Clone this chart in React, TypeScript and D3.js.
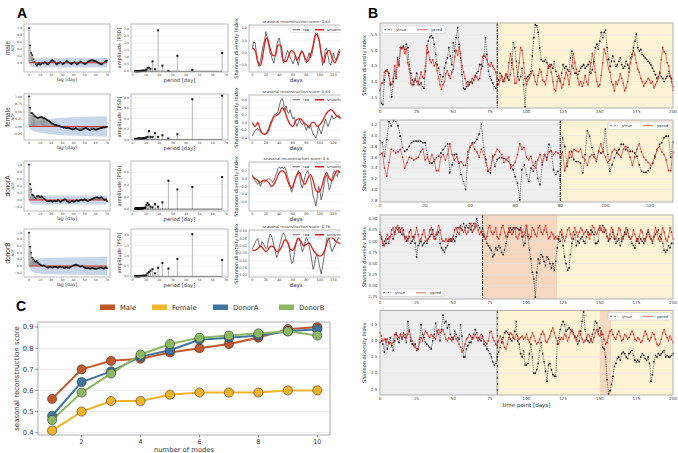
import React from "react";
import * as d3 from "d3";

const FONT = "'DejaVu Sans', sans-serif";
const ARIAL = "'Liberation Sans', Arial, sans-serif";

// ---------------- Panel C data ----------------
const modes = [1, 2, 3, 4, 5, 6, 7, 8, 9, 10];
const cMale = [0.56, 0.70, 0.74, 0.75, 0.78, 0.80, 0.82, 0.85, 0.89, 0.90];
const cFemale = [0.41, 0.50, 0.55, 0.55, 0.58, 0.59, 0.59, 0.59, 0.60, 0.60];
const cDonorA = [0.48, 0.64, 0.69, 0.76, 0.79, 0.84, 0.85, 0.86, 0.88, 0.89];
const cDonorB = [0.46, 0.59, 0.68, 0.77, 0.82, 0.85, 0.86, 0.87, 0.88, 0.86];
const cNames = ["Male", "Female", "DonorA", "DonorB"];
const cYTicks = [0.4, 0.5, 0.6, 0.7, 0.8, 0.9];
const cXTicks = [2, 4, 6, 8, 10];

// ---------------- Panel A data ----------------
const rowNames = ["male", "female", "donorA", "donorB"];
const reconScores = ["0.84", "0.64", "0.8", "0.76"];

const acfMale = [1.0, 0.5, 0.28, 0.22, 0.1, 0.02, -0.05, -0.08, -0.05, -0.02, -0.06, -0.04, 0.0, -0.02, 0.02, 0.0, -0.03, -0.05, -0.02, 0.02, 0.05, 0.08, 0.05, 0.02, -0.03, -0.05, -0.02, 0.0, 0.02, 0.0, -0.04, -0.03, 0.0, 0.03, 0.05, 0.02, 0.0, -0.02, -0.04, -0.02, 0.0, 0.02, -0.02, -0.05, -0.03, 0.0, 0.03, 0.02, 0.0, -0.02, -0.04, -0.03, 0.0, 0.03, 0.05, 0.06, 0.07, 0.07, 0.06, 0.05, 0.04, 0.02, 0.0, -0.02, -0.04, -0.05, -0.03, 0.0, 0.03, 0.05, 0.06];
const acfFemale = [1.0, 0.62, 0.45, 0.44, 0.4, 0.35, 0.33, 0.3, 0.28, 0.3, 0.31, 0.32, 0.3, 0.28, 0.27, 0.25, 0.22, 0.2, 0.18, 0.15, 0.12, 0.1, 0.08, 0.06, 0.05, 0.04, 0.03, 0.02, 0.0, -0.01, -0.02, -0.04, -0.03, -0.05, -0.06, -0.05, -0.05, -0.07, -0.08, -0.1, -0.09, -0.08, -0.06, -0.08, -0.1, -0.12, -0.13, -0.12, -0.1, -0.08, -0.06, -0.05, -0.07, -0.09, -0.11, -0.12, -0.1, -0.09, -0.08, -0.1, -0.11, -0.1, -0.08, -0.07, -0.06, -0.05, -0.04, -0.03, -0.03, -0.02, -0.01];
const acfDonorA = [1.0, 0.45, 0.3, 0.15, 0.13, 0.08, 0.05, 0.1, 0.12, 0.1, 0.08, 0.1, 0.08, 0.05, 0.03, 0.0, -0.03, -0.04, -0.03, -0.02, -0.03, -0.05, -0.03, -0.02, -0.04, -0.03, 0.0, -0.02, -0.05, -0.04, -0.02, 0.0, 0.02, 0.01, -0.03, -0.05, -0.07, -0.06, -0.04, -0.03, -0.05, -0.04, -0.02, -0.01, -0.03, -0.02, 0.0, 0.01, -0.01, 0.0, 0.02, 0.0, -0.02, -0.03, -0.01, 0.0, 0.02, 0.03, 0.05, 0.06, 0.07, 0.08, 0.06, 0.05, 0.07, 0.08, 0.05, 0.02, 0.0, 0.02, -0.03];
const acfDonorB = [1.0, 0.58, 0.4, 0.25, 0.2, 0.15, 0.12, 0.15, 0.1, 0.06, 0.04, 0.02, 0.0, 0.02, 0.01, -0.02, -0.04, -0.05, -0.03, -0.02, -0.04, -0.05, -0.03, -0.02, -0.03, -0.04, -0.05, -0.03, -0.02, -0.04, -0.03, -0.05, -0.06, -0.04, -0.03, -0.05, -0.06, -0.04, -0.02, 0.0, 0.02, 0.03, 0.04, 0.03, 0.02, 0.0, -0.02, -0.01, 0.0, -0.03, -0.05, -0.06, -0.07, -0.06, -0.07, -0.08, -0.07, -0.06, -0.07, -0.08, -0.09, -0.08, -0.07, -0.06, -0.05, -0.06, -0.07, -0.08, -0.06, -0.05, -0.07];

// confidence band half-widths: [lag, halfwidth]
const bandMale = [[0, 0], [1, 0.09], [2, 0.11], [3, 0.12], [5, 0.13], [70, 0.14]];
const bandFemale = [[0, 0], [1, 0.1], [2, 0.13], [5, 0.17], [10, 0.21], [20, 0.26], [30, 0.29], [50, 0.32], [70, 0.34]];
const bandDonorA = [[0, 0], [1, 0.09], [2, 0.11], [3, 0.12], [5, 0.13], [70, 0.13]];
const bandDonorB = [[0, 0], [1, 0.1], [2, 0.14], [3, 0.17], [5, 0.2], [10, 0.23], [20, 0.25], [70, 0.28]];

const psdPeriods = [67.0, 44.7, 33.5, 26.8, 22.3, 19.1, 16.8, 14.9, 13.4, 12.2, 11.2, 10.3, 9.6, 8.9, 8.4, 7.9, 7.4, 7.1, 6.7, 6.4, 6.1, 5.8, 5.6, 5.4, 5.2, 5.0, 4.8, 4.6, 4.5, 4.3, 4.2, 4.0, 3.8, 3.6, 3.4, 3.2, 3.0, 2.8, 2.6, 2.4, 2.2, 2.0];
const psdMale = [1.3, 0.1, 1.1, 0.03, 0.4, 2.9, 0.15, 0.7, 0.18, 0.25, 0.25, 0.12, 0.06, 0.04, 0.05, 0.03, 0.02, 0.04, 0.03, 0.02, 0.03, 0.02, 0.01, 0.02, 0.03, 0.02, 0.01, 0.02, 0.01, 0.02, 0.01, 0.01, 0.02, 0.01, 0.01, 0.02, 0.01, 0.01, 0.01, 0.01, 0.01, 0.01];
const psdFemale = [0.84, 0.77, 0.1, 0.02, 0.08, 0.05, 0.12, 0.05, 0.05, 0.16, 0.05, 0.04, 0.03, 0.02, 0.03, 0.02, 0.02, 0.01, 0.02, 0.01, 0.01, 0.02, 0.01, 0.01, 0.01, 0.01, 0.01, 0.02, 0.01, 0.01, 0.01, 0.01, 0.01, 0.01, 0.01, 0.01, 0.01, 0.01, 0.01, 0.01, 0.01, 0.01];
const psdDonorA = [0.52, 0.36, 0.32, 0.46, 0.11, 0.04, 0.08, 0.03, 0.04, 0.07, 0.1, 0.07, 0.03, 0.02, 0.02, 0.01, 0.02, 0.01, 0.01, 0.02, 0.01, 0.01, 0.01, 0.01, 0.01, 0.01, 0.01, 0.01, 0.01, 0.01, 0.01, 0.01, 0.01, 0.01, 0.01, 0.01, 0.01, 0.01, 0.01, 0.01, 0.01, 0.01];
const psdDonorB = [0.8, 2.05, 0.85, 0.38, 0.65, 0.42, 0.15, 0.35, 0.28, 0.22, 0.15, 0.05, 0.04, 0.03, 0.03, 0.02, 0.03, 0.02, 0.02, 0.02, 0.01, 0.02, 0.01, 0.02, 0.01, 0.01, 0.01, 0.01, 0.01, 0.01, 0.01, 0.01, 0.01, 0.01, 0.01, 0.01, 0.01, 0.01, 0.01, 0.01, 0.01, 0.01];

// reconstruction: [day, value]
const rawMale = [[0, 0.2], [2, 0.45], [4, 0.4], [6, 0.0], [8, -0.4], [10, -0.55], [12, -0.3], [14, 0.0], [16, 0.3], [18, 0.5], [20, 0.85], [22, 0.6], [24, 0.3], [26, 0.0], [28, -0.1], [30, -0.3], [32, -0.4], [34, -0.1], [36, 0.3], [38, 0.5], [40, 0.6], [42, 0.2], [44, -0.2], [46, -0.4], [48, -0.3], [50, -0.1], [52, 0.1], [54, 0.0], [56, -0.2], [58, -0.3], [60, -0.45], [62, -0.3], [64, -0.1], [66, -0.3], [68, -0.5], [70, -0.2], [72, 0.1], [74, 0.05], [76, -0.1], [78, -0.3], [80, -0.4], [82, -0.2], [84, 0.0], [86, -0.2], [88, -0.1], [90, 0.2], [92, 0.5], [94, 0.85], [96, 0.8], [98, 0.6], [100, 0.3], [102, -0.1], [104, -0.5], [106, -0.3], [108, 0.1], [110, 0.2], [112, -0.1], [114, -0.4], [116, -0.5], [118, -0.3], [120, 0.0], [122, -0.2], [124, -0.3], [126, -0.1], [128, 0.1], [130, 0.15]];
const smoothMale = [[0, 0.2], [4, 0.1], [8, -0.35], [12, -0.5], [16, 0.0], [20, 0.55], [22, 0.6], [26, 0.2], [30, -0.1], [34, -0.1], [38, 0.3], [42, 0.3], [46, -0.3], [50, -0.35], [54, -0.1], [58, 0.1], [62, 0.0], [66, -0.3], [70, -0.1], [74, 0.05], [78, -0.2], [82, -0.35], [86, -0.1], [90, 0.3], [94, 0.75], [98, 0.6], [102, 0.0], [106, -0.4], [110, 0.0], [114, 0.1], [118, -0.2], [122, -0.4], [126, -0.2], [130, 0.1]];
const rawFemale = [[0, -0.35], [4, -0.2], [8, -0.15], [10, -0.2], [12, -0.25], [16, -0.3], [20, -0.3], [24, -0.15], [28, 0.05], [32, 0.2], [36, 0.25], [38, 0.3], [40, 0.45], [42, 0.6], [44, 0.65], [46, 0.55], [48, 0.3], [50, 0.45], [52, 0.3], [54, 0.25], [56, 0.35], [58, 0.2], [60, 0.1], [62, 0.15], [64, 0.0], [66, -0.1], [68, 0.0], [70, 0.1], [72, 0.0], [74, -0.05], [76, 0.0], [78, -0.1], [80, -0.2], [82, -0.1], [84, -0.15], [86, -0.05], [88, -0.2], [90, -0.3], [92, -0.35], [94, -0.4], [96, -0.3], [98, -0.1], [100, -0.2], [102, -0.3], [104, -0.15], [106, -0.05], [108, 0.1], [110, 0.0], [112, -0.1], [114, 0.0], [116, 0.1], [118, 0.2], [120, 0.1], [124, 0.15], [128, 0.2], [132, 0.1]];
const smoothFemale = [[0, 0.0], [4, -0.1], [8, 0.0], [12, -0.2], [16, -0.3], [20, -0.3], [24, -0.2], [28, 0.0], [32, 0.15], [36, 0.2], [40, 0.25], [44, 0.4], [48, 0.3], [52, 0.1], [56, -0.05], [60, -0.1], [64, 0.05], [68, 0.1], [72, 0.1], [76, 0.0], [80, -0.05], [84, -0.1], [88, 0.0], [92, 0.0], [96, -0.1], [100, -0.05], [104, 0.05], [108, 0.2], [112, 0.3], [116, 0.35], [120, 0.3], [124, 0.2], [128, 0.15], [132, 0.1]];
const rawDonorA = [[0, 0.1], [2, 0.0], [4, -0.05], [6, -0.1], [8, -0.15], [10, -0.1], [12, -0.2], [14, -0.1], [16, -0.05], [18, -0.1], [20, -0.05], [24, 0.0], [28, -0.05], [30, -0.1], [32, -0.05], [34, 0.05], [36, 0.15], [38, 0.25], [40, 0.3], [42, 0.25], [44, 0.3], [46, 0.25], [48, 0.3], [50, 0.2], [52, 0.05], [54, -0.05], [56, -0.2], [58, -0.35], [60, -0.25], [62, -0.1], [64, 0.0], [66, 0.1], [68, 0.2], [70, 0.05], [72, -0.15], [74, -0.25], [76, -0.1], [78, 0.05], [80, 0.15], [82, 0.2], [84, 0.1], [86, 0.0], [88, -0.2], [90, -0.45], [92, -0.55], [94, -0.7], [96, -0.5], [98, -0.2], [100, -0.3], [102, -0.55], [104, -0.4], [106, -0.2], [108, 0.0], [110, 0.1], [112, -0.1], [114, -0.3], [116, -0.2], [118, 0.0], [120, 0.15], [122, 0.2], [124, 0.1], [126, 0.05], [128, 0.2], [130, 0.15]];
const smoothDonorA = [[0, 0.05], [4, 0.0], [8, -0.05], [12, -0.1], [16, -0.05], [20, -0.05], [24, -0.1], [28, -0.2], [32, -0.15], [36, 0.0], [40, 0.15], [44, 0.2], [48, 0.15], [52, -0.05], [56, -0.2], [58, -0.25], [62, -0.1], [66, 0.1], [70, 0.15], [74, -0.05], [78, -0.15], [82, 0.0], [86, 0.1], [90, -0.05], [94, -0.3], [98, -0.35], [102, -0.25], [106, 0.0], [110, 0.15], [114, 0.0], [118, -0.05], [122, 0.1], [126, 0.2], [130, 0.15]];
const rawDonorB = [[0, -0.1], [2, 0.0], [4, 0.1], [6, 0.2], [8, 0.25], [10, 0.05], [12, -0.05], [14, 0.15], [16, 0.1], [18, 0.0], [20, -0.1], [22, -0.05], [24, 0.2], [26, 0.4], [28, 0.35], [30, 0.2], [32, 0.0], [34, -0.2], [36, -0.4], [38, -0.3], [40, 0.0], [42, 0.15], [44, 0.35], [46, 0.45], [48, 0.35], [50, 0.2], [52, 0.1], [54, 0.0], [56, -0.3], [58, -0.6], [60, -0.55], [62, -0.3], [64, 0.0], [66, 0.2], [68, 0.35], [70, 0.25], [72, 0.0], [74, -0.2], [76, -0.1], [78, 0.15], [80, 0.3], [82, 0.2], [84, 0.0], [86, -0.2], [88, -0.5], [90, -0.8], [92, -0.65], [94, -0.35], [96, -0.3], [98, -0.5], [100, -0.75], [102, -0.95], [104, -0.7], [106, -0.4], [108, -0.1], [110, 0.2], [112, 0.4], [114, 0.2], [116, -0.05], [118, -0.2], [120, -0.1], [124, 0.1], [128, 0.3], [132, 0.2]];
const smoothDonorB = [[0, -0.15], [4, -0.15], [8, -0.1], [12, 0.0], [16, -0.1], [20, -0.2], [24, -0.1], [28, 0.0], [32, -0.05], [36, -0.2], [40, -0.15], [44, 0.0], [48, 0.2], [52, 0.15], [56, -0.1], [60, -0.15], [64, 0.05], [68, 0.25], [72, 0.15], [76, 0.0], [80, 0.05], [84, 0.1], [88, -0.05], [92, -0.2], [96, -0.3], [100, -0.35], [104, -0.3], [108, -0.1], [112, 0.2], [116, 0.3], [120, 0.25], [124, 0.15], [128, 0.1], [132, 0.05]];

// ---------------- Panel B data (index = day) ----------------
const b1True = [3.73, 3.3, 3.26, 4.05, 4.33, 4.38, 4.27, 3.9, 3.51, 4.0, 4.33, 4.1, 4.76, 4.54, 5.09, 5.09, 5.14, 5.03, 5.2, 5.09, 4.54, 4.27, 4.05, 3.9, 4.05, 4.27, 4.0, 3.9, 3.95, 3.84, 3.78, 4.33, 4.92, 5.3, 5.43, 5.47, 5.41, 5.2, 4.87, 4.54, 4.43, 4.22, 4.0, 4.16, 4.43, 4.6, 4.76, 5.09, 4.82, 4.54, 5.25, 4.98, 5.41, 5.74, 5.2, 4.76, 4.22, 3.78, 3.76, 3.84, 4.0, 3.9, 4.0, 3.95, 4.05, 4.16, 4.27, 4.33, 4.54, 4.54, 4.49, 4.82, 5.41, 4.87, 4.33, 4.16, 4.05, 3.95, 3.84, 3.78, 3.9, 4.05, 4.27, 4.16, 4.0, 4.1, 4.22, 4.16, 4.05, 4.22, 4.6, 5.25, 5.09, 4.65, 4.16, 4.05, 4.16, 4.43, 3.9, 3.18, 4.1, 4.16, 4.22, 4.33, 4.82, 5.41, 5.83, 5.79, 5.58, 5.09, 4.71, 4.65, 4.65, 4.71, 4.6, 4.43, 4.49, 4.54, 4.43, 4.65, 4.33, 4.16, 4.1, 4.0, 4.27, 4.54, 4.43, 4.49, 4.38, 4.33, 4.76, 4.98, 4.43, 4.27, 4.27, 4.22, 4.33, 4.43, 4.49, 4.54, 4.43, 4.49, 4.54, 4.65, 4.27, 4.38, 4.65, 5.09, 5.2, 5.03, 5.3, 5.58, 5.41, 5.58, 5.65, 5.09, 4.71, 4.49, 4.65, 4.82, 4.65, 4.49, 4.54, 4.65, 4.76, 4.54, 4.43, 4.49, 4.65, 4.54, 4.43, 4.76, 4.87, 5.09, 5.3, 5.52, 5.09, 4.98, 5.03, 4.87, 4.82, 4.76, 4.71, 4.65, 4.6, 4.54, 4.43, 4.33, 4.22, 4.1, 4.16, 4.27, 4.16, 4.1, 4.0, 4.1, 4.16, 4.33, 4.16, 4.1, 3.84];
const b1Pred = [3.7, 3.95, 3.95, 4.3, 4.35, 4.35, 4.2, 3.95, 3.9, 4.1, 4.5, 4.15, 4.7, 4.5, 5.1, 5.05, 5.1, 4.9, 5.05, 4.6, 4.4, 3.95, 3.9, 4.0, 4.1, 4.0, 3.9, 4.1, 4.3, 4.15, 4.1, 4.5, 5.15, 4.95, 4.7, 4.6, 4.7, 4.5, 4.6, 4.35, 4.1, 3.9, 3.75, 3.9, 4.0, 4.25, 4.35, 4.2, 4.1, 4.3, 4.4, 4.8, 5.0, 4.85, 5.1, 4.9, 4.5, 4.3, 4.1, 3.95, 3.85, 3.95, 4.0, 4.1, 4.05, 4.2, 4.15, 4.05, 4.1, 4.4, 4.8, 4.85, 4.8, 4.7, 4.55, 4.5, 4.6, 4.5, 4.4, 4.3, 4.0, 3.9, 4.05, 4.2, 4.05, 4.0, 4.25, 4.1, 4.6, 4.9, 4.7, 4.4, 3.95, 3.95, 4.3, 4.6, 5.1, 5.0, 4.6, 4.1, 3.9, 4.05, 4.1, 4.25, 4.35, 4.2, 4.0, 3.9, 4.2, 4.4, 4.3, 4.05, 4.0, 3.9, 4.2, 4.5, 4.55, 4.3, 4.0, 3.75, 3.7, 4.0, 4.2, 4.05, 3.8, 3.9, 4.1, 4.3, 4.2, 3.9, 4.25, 4.5, 4.9, 4.6, 4.4, 4.1, 3.9, 4.0, 3.85, 3.95, 4.2, 4.0, 3.9, 4.3, 4.6, 4.9, 4.6, 4.3, 4.0, 3.85, 3.9, 4.2, 4.6, 5.05, 4.9, 4.7, 4.4, 4.3, 4.0, 3.9, 3.7, 4.0, 3.9, 4.05, 4.25, 4.1, 3.95, 3.7, 3.8, 4.0, 4.3, 4.6, 4.8, 5.0, 4.85, 4.6, 4.4, 4.3, 4.1, 4.0, 3.85, 3.95, 4.0, 4.1, 4.05, 3.95, 4.0, 3.8, 3.9, 4.0, 4.1, 4.3, 4.7, 5.1, 4.95, 4.9, 4.6, 4.5, 4.2, 4.0, 3.72];

const b2True = [3.91, 3.87, 3.62, 3.93, 4.26, 4.18, 4.28, 4.26, 4.18, 3.99, 3.78, 3.71, 3.74, 3.8, 3.87, 3.9, 3.9, 3.9, 3.9, 3.87, 3.87, 3.65, 3.49, 3.49, 3.52, 3.59, 3.62, 3.68, 3.74, 3.8, 3.85, 3.31, 3.46, 3.65, 3.66, 3.49, 3.28, 3.15, 3.0, 3.59, 3.78, 3.87, 3.87, 3.93, 4.03, 4.21, 3.78, 3.56, 3.34, 3.31, 3.62, 3.43, 3.56, 3.59, 3.59, 3.58, 3.56, 3.52, 3.46, 3.37, 3.24, 3.12, 2.81, 3.37, 3.46, 3.28, 3.15, 3.4, 3.34, 3.52, 3.21, 3.09, 3.46, 3.65, 3.59, 3.84, 3.71, 3.37, 3.28, 3.34, 3.18, 3.96, 3.8, 3.43, 3.59, 3.71, 3.56, 3.52, 3.52, 3.49, 3.31, 3.65, 4.09, 3.99, 3.78, 3.65, 3.52, 3.71, 3.68, 3.71, 4.12, 3.65, 3.34, 3.46, 3.59, 3.68, 3.74, 3.84, 3.84, 3.74, 3.78, 3.71, 3.71, 3.68, 3.62, 3.46, 3.34, 3.32, 3.32, 3.35, 3.4, 3.49, 3.62, 3.74, 3.84, 3.87, 3.96, 3.99, 3.99, 3.6, 3.88];
const b2Pred = [3.65, 3.68, 3.4, 3.25, 3.5, 3.75, 3.72, 3.68, 3.7, 3.75, 3.6, 3.4, 3.5, 3.6, 3.58, 3.55, 3.57, 3.6, 3.7, 3.75, 3.55, 3.6, 3.5, 3.65, 3.55, 3.35, 3.35, 3.6, 3.65, 3.55, 3.65, 3.85, 3.65, 3.55, 3.6, 3.5, 3.52, 3.45, 3.45, 3.7, 3.8, 3.85, 3.75, 3.7, 3.6, 3.75, 3.65, 3.5, 3.35, 3.4, 3.6, 3.65, 3.75, 3.7, 3.65, 3.5, 3.55, 3.6, 3.4, 3.45, 3.5, 3.65, 3.85, 3.75, 3.78, 3.6, 3.55, 3.62, 3.45, 3.4, 3.55, 3.65, 3.5, 3.65, 3.55, 3.7, 3.72, 3.65, 3.7, 3.68, 3.6, 3.7, 3.35, 3.5, 3.7, 3.6, 3.75, 3.72, 3.7, 3.75, 3.6, 3.55, 3.45, 3.6, 3.65, 3.6, 3.55, 3.7, 3.85, 3.7, 3.6, 3.5, 3.55, 3.7, 3.75, 3.72, 3.65, 3.6, 3.75, 3.8, 3.72, 3.6, 3.45, 3.6, 3.75, 3.85, 3.7, 3.6, 3.55, 3.5, 3.45, 3.5, 3.6, 3.75, 3.8, 3.7, 3.65, 3.55, 3.35, 3.35, 3.7];

const b3True = [4.15, 4.05, 3.9, 4.0, 3.95, 4.05, 3.95, 4.1, 4.15, 4.05, 4.2, 4.3, 4.25, 4.3, 4.2, 4.15, 4.25, 4.1, 4.0, 4.05, 4.1, 3.95, 4.0, 4.1, 3.95, 3.65, 3.9, 3.95, 4.0, 3.9, 3.95, 4.0, 3.95, 4.05, 4.1, 4.15, 4.25, 4.1, 4.05, 4.15, 4.2, 3.95, 3.85, 3.8, 3.75, 3.85, 3.9, 4.0, 4.05, 4.0, 4.05, 4.0, 4.1, 4.3, 4.3, 4.35, 4.25, 4.4, 4.3, 4.35, 4.3, 4.4, 4.25, 4.35, 4.4, 4.3, 4.5, 4.35, 4.3, 4.2, 4.15, 4.1, 4.05, 3.95, 3.9, 3.85, 3.8, 3.65, 3.7, 3.85, 3.8, 3.9, 3.85, 3.75, 3.7, 3.8, 3.95, 4.1, 4.2, 4.3, 4.25, 4.3, 4.3, 4.3, 4.28, 4.25, 4.3, 4.1, 3.9, 3.95, 4.35, 4.1, 3.8, 3.6, 3.3, 3.15, 2.75, 3.3, 3.6, 3.5, 3.7, 3.65, 3.55, 3.45, 3.65, 3.6, 3.5, 3.4, 3.5, 3.35, 3.55, 3.85, 4.05, 4.0, 4.15, 3.9, 3.65, 3.5, 3.35, 3.4, 3.7, 3.95, 4.05, 4.15, 3.9, 4.0, 3.95, 4.05, 4.1, 4.0, 3.95, 4.1, 4.2, 4.15, 4.25, 4.2, 4.15, 3.95, 3.95, 4.0, 4.3, 4.25, 4.35, 4.2, 4.25, 4.1, 4.0, 4.05, 4.1, 4.2, 4.05, 3.95, 4.0, 4.05, 3.9, 4.0, 4.1, 4.2, 4.15, 4.25, 4.1, 4.05, 3.95, 3.9, 3.85, 4.0, 4.05, 3.95, 4.05, 4.0, 3.95, 4.05, 4.15, 4.2, 4.1, 4.05, 3.95, 4.1, 4.15, 4.2, 4.25, 4.1, 4.05, 3.95, 3.8, 3.75, 3.8, 3.9, 3.85, 3.95, 3.95];
const b3Pred = [4.2, 4.1, 3.95, 3.9, 4.05, 4.15, 4.05, 4.1, 4.25, 4.3, 4.15, 4.3, 4.35, 4.2, 4.25, 4.3, 4.15, 4.05, 4.1, 4.0, 4.2, 4.25, 4.1, 4.05, 4.15, 4.3, 4.15, 4.0, 4.05, 4.15, 4.25, 4.1, 4.0, 4.05, 4.25, 4.3, 4.15, 4.05, 4.15, 4.2, 4.35, 4.25, 4.05, 4.0, 4.0, 4.05, 4.0, 4.05, 4.0, 4.05, 4.1, 4.25, 4.3, 4.2, 4.15, 4.3, 4.25, 4.2, 4.25, 4.15, 4.2, 4.3, 4.4, 4.2, 4.25, 4.4, 4.35, 4.25, 4.15, 4.2, 4.3, 4.15, 4.05, 4.1, 4.3, 4.35, 4.2, 4.15, 4.2, 4.3, 4.1, 4.05, 4.15, 4.3, 4.35, 4.2, 4.1, 4.15, 4.3, 4.2, 4.15, 4.2, 4.3, 4.1, 4.05, 4.15, 4.25, 4.2, 4.1, 4.2, 4.35, 4.15, 4.05, 4.1, 4.3, 4.25, 4.15, 4.1, 4.3, 4.35, 4.2, 4.15, 4.25, 4.35, 4.2, 4.05, 4.1, 4.2, 4.15, 4.05, 4.1, 4.05, 4.1, 4.2, 4.25, 4.1, 4.0, 4.1, 4.25, 4.3, 4.15, 4.05, 4.2, 4.3, 4.2, 4.1, 4.2, 4.3, 4.25, 4.15, 4.2, 4.25, 4.15, 4.05, 4.15, 4.35, 4.3, 4.2, 4.15, 4.25, 4.35, 4.25, 4.2, 4.3, 4.25, 4.1, 4.05, 4.15, 4.3, 4.25, 4.1, 4.05, 4.15, 4.3, 4.25, 4.05, 4.05, 4.15, 4.3, 4.2, 4.1, 4.05, 4.1, 4.25, 4.15, 4.05, 4.0, 4.1, 4.25, 4.2, 4.05, 4.0, 4.1, 4.25, 4.15, 4.05, 4.0, 4.1, 4.3, 4.2, 4.05, 4.0, 4.15, 4.3, 4.2, 4.05, 4.0, 4.1, 4.3, 4.2, 4.05];

const b4True = [3.95, 4.0, 3.9, 3.65, 4.05, 3.75, 3.95, 4.1, 3.85, 3.7, 4.0, 4.2, 4.05, 3.95, 4.2, 4.1, 4.25, 4.1, 3.95, 4.6, 4.3, 4.0, 3.9, 3.85, 3.9, 3.7, 3.75, 4.05, 4.5, 4.2, 4.1, 3.95, 3.9, 3.85, 3.8, 3.75, 4.0, 4.2, 4.55, 4.3, 4.2, 4.0, 4.35, 4.8, 4.55, 4.6, 4.4, 4.5, 4.2, 4.1, 4.05, 4.3, 4.2, 4.1, 4.05, 4.5, 4.15, 3.5, 3.5, 3.75, 3.85, 3.95, 3.95, 4.1, 4.2, 4.35, 4.25, 4.1, 4.05, 4.0, 4.15, 3.9, 3.85, 3.75, 3.7, 3.6, 3.5, 3.35, 3.25, 3.3, 3.5, 3.65, 3.8, 3.95, 4.1, 4.25, 4.3, 4.25, 4.2, 4.05, 4.0, 4.1, 4.3, 4.6, 4.0, 3.9, 3.6, 3.5, 3.7, 3.25, 3.25, 3.3, 3.6, 3.9, 3.5, 3.0, 3.0, 3.1, 3.3, 3.7, 3.95, 3.6, 3.35, 3.05, 2.75, 3.25, 3.3, 3.1, 2.95, 2.9, 2.9, 3.9, 4.1, 4.35, 4.5, 4.6, 4.5, 4.3, 4.35, 4.4, 4.35, 4.3, 4.25, 4.15, 4.1, 3.9, 4.0, 4.3, 4.6, 4.9, 4.35, 4.05, 4.0, 3.95, 4.05, 4.2, 4.35, 4.6, 4.55, 4.3, 4.4, 4.2, 3.8, 3.75, 3.5, 2.8, 2.35, 2.45, 2.65, 2.9, 3.2, 3.3, 3.45, 3.5, 3.4, 3.6, 3.65, 3.6, 3.5, 3.45, 3.6, 3.65, 3.7, 3.55, 3.4, 3.35, 3.4, 3.35, 3.5, 3.6, 3.55, 3.45, 3.4, 3.5, 3.3, 2.75, 2.95, 3.35, 3.55, 3.5, 3.6, 3.55, 3.6, 3.65, 3.7, 3.5, 3.55, 3.5, 3.5, 3.55, 3.6];
const b4Pred = [4.25, 4.15, 4.0, 4.05, 3.95, 4.05, 3.9, 3.95, 3.9, 3.95, 4.2, 4.25, 4.15, 4.1, 4.2, 4.05, 4.15, 4.2, 4.1, 4.2, 4.35, 4.1, 4.0, 3.9, 3.8, 3.75, 3.75, 3.95, 4.1, 4.0, 4.2, 4.3, 4.25, 4.15, 4.1, 4.2, 4.15, 4.1, 4.05, 4.25, 4.35, 4.25, 4.3, 4.35, 4.2, 4.05, 4.0, 4.1, 4.05, 4.0, 4.1, 4.15, 4.05, 4.0, 3.9, 3.8, 3.65, 3.7, 3.9, 4.05, 4.1, 4.2, 4.15, 4.05, 4.1, 4.2, 4.1, 4.0, 4.1, 4.2, 4.1, 4.0, 3.95, 3.9, 4.0, 4.25, 4.3, 4.1, 4.0, 3.9, 3.85, 4.0, 4.15, 4.05, 3.95, 3.8, 3.75, 3.9, 4.1, 4.25, 4.2, 4.1, 4.05, 4.2, 4.15, 4.05, 4.1, 4.15, 4.05, 4.1, 4.2, 4.05, 3.95, 4.1, 4.25, 4.15, 4.0, 3.9, 3.95, 4.05, 4.2, 4.3, 4.2, 4.0, 3.95, 4.05, 4.15, 4.3, 4.4, 4.25, 4.1, 4.0, 3.9, 4.05, 4.1, 4.05, 4.2, 4.15, 4.0, 4.1, 4.25, 4.35, 4.2, 4.1, 4.0, 4.15, 4.3, 4.2, 4.05, 3.95, 4.0, 4.1, 4.2, 4.15, 4.0, 3.95, 4.1, 4.25, 4.35, 4.2, 4.15, 4.3, 4.2, 4.05, 3.9, 3.95, 4.15, 4.3, 4.35, 4.2, 4.1, 4.05, 4.2, 4.3, 4.15, 4.0, 4.05, 4.2, 4.15, 4.05, 4.1, 4.2, 4.3, 4.2, 4.05, 4.0, 4.1, 4.05, 3.95, 4.0, 4.15, 4.3, 4.2, 4.05, 4.0, 4.1, 4.25, 4.2, 4.05, 3.9, 3.85, 3.9, 4.05, 4.25, 4.35, 4.2, 4.1, 4.0, 4.15, 4.05, 3.95];

// regions: [start, end, kind]
const b1Regions = [[0, 80, "train"], [80, 200, "test"]];
const b2Regions = [[0, 80, "train"], [80, 130, "test"]];
const b3Regions = [[0, 70, "train"], [70, 121, "event"], [121, 200, "test"]];
const b4Regions = [[0, 80, "train"], [80, 150, "test"], [150, 158, "event"], [158, 200, "test"]];

const REGION_COLORS: Record<string, string> = { train: "#efefef", test: "#fcf3d5", event: "#f6d8c0" };
const RED = "#d8302a";

// ---------------- components ----------------
function Frame({ x, y, w, h, stroke = "#b3b3b3", sw = 0.9 }: any) {
  return <rect x={x} y={y} width={w} height={h} fill="none" stroke={stroke} strokeWidth={sw} />;
}

function AcfPanel({ top, bottom, acf, band, yDomain, yTicks, fmt }: any) {
  const L = 24, R = 110;
  const xs = d3.scaleLinear().domain([-4.5, 72.7]).range([L, R]);
  const ys = d3.scaleLinear().domain(yDomain).range([bottom, top]);
  const bandPath = d3.area<number[]>().x(d => xs(d[0])).y0(d => ys(-d[1])).y1(d => ys(d[1]))(band) || "";
  const f = d3.format(fmt);
  return (
    <g>
      <rect x={L} y={top} width={R - L} height={bottom - top} fill="#fff" />
      <path d={bandPath} fill="#c7d6e8" />
      {acf.map((v: number, i: number) => (
        <line key={"s" + i} x1={xs(i)} x2={xs(i)} y1={ys(0)} y2={ys(v)} stroke="#8c8c8c" strokeWidth={0.9} />
      ))}
      <line x1={xs(0)} x2={xs(70)} y1={ys(0)} y2={ys(0)} stroke={RED} strokeWidth={1.1} />
      {acf.map((v: number, i: number) => (
        <rect key={"m" + i} x={xs(i) - 0.8} y={ys(v) - 0.8} width={1.6} height={1.6} fill="#111" />
      ))}
      <Frame x={L} y={top} w={R - L} h={bottom - top} />
      {yTicks.map((t: number) => (
        <text key={t} x={L - 2} y={ys(t) + 1.1} fontSize={3.2} textAnchor="end" fill="#444" fontFamily={FONT}>{f(t)}</text>
      ))}
      {[0, 10, 20, 30, 40, 50, 60, 70].map(t => (
        <text key={t} x={xs(t)} y={bottom + 4} fontSize={3.2} textAnchor="middle" fill="#444" fontFamily={FONT}>{t}</text>
      ))}
      <text x={(L + R) / 2} y={bottom + 9} fontSize={4.6} textAnchor="middle" fill="#333" fontFamily={FONT}>lag [day]</text>
      <text transform={`translate(${L - 10},${(top + bottom) / 2}) rotate(-90)`} fontSize={3.6} textAnchor="middle" fill="#333" fontFamily={FONT}>ACF</text>
    </g>
  );
}

function PsdPanel({ top, bottom, amps, yDomain, yTicks, fmt }: any) {
  const L = 131, R = 228;
  const xs = d3.scaleLinear().domain([-1.2, 71.4]).range([L, R]);
  const ys = d3.scaleLinear().domain(yDomain).range([bottom, top]);
  const f = d3.format(fmt);
  return (
    <g>
      <rect x={L} y={top} width={R - L} height={bottom - top} fill="#fff" />
      {yTicks.map((t: number) => (
        <line key={"g" + t} x1={L} x2={R} y1={ys(t)} y2={ys(t)} stroke="#e6e6e6" strokeWidth={0.5} />
      ))}
      {amps.map((v: number, i: number) => (
        <line key={"s" + i} x1={xs(psdPeriods[i])} x2={xs(psdPeriods[i])} y1={ys(0)} y2={ys(v)} stroke="#888" strokeWidth={0.6} />
      ))}
      <line x1={xs(2)} x2={xs(67)} y1={ys(0)} y2={ys(0)} stroke="#222" strokeWidth={0.7} />
      {amps.map((v: number, i: number) => (
        <rect key={"m" + i} x={xs(psdPeriods[i]) - 1} y={ys(v) - 1} width={2} height={2} fill="#111" />
      ))}
      <Frame x={L} y={top} w={R - L} h={bottom - top} />
      {yTicks.map((t: number) => (
        <text key={t} x={L - 2} y={ys(t) + 1.1} fontSize={3.2} textAnchor="end" fill="#444" fontFamily={FONT}>{f(t)}</text>
      ))}
      {[0, 10, 20, 30, 40, 50, 60, 70].map(t => (
        <text key={t} x={xs(t)} y={bottom + 4} fontSize={3.2} textAnchor="middle" fill="#444" fontFamily={FONT}>{t}</text>
      ))}
      <text x={(L + R) / 2} y={bottom + 9.5} fontSize={5.2} textAnchor="middle" fill="#333" fontFamily={FONT}>period [day]</text>
      <text transform={`translate(${L - 10},${(top + bottom) / 2}) rotate(-90)`} fontSize={5} textAnchor="middle" fill="#333" fontFamily={FONT}>amplitude [PSD]</text>
    </g>
  );
}

function ReconPanel({ top, bottom, raw, smooth, yDomain, yTicks, fmt, score, id }: any) {
  const L = 249, Rclip = 340.5;
  const xs = d3.scaleLinear().domain([-5, 135]).range([L, 343.5]);
  const ys = d3.scaleLinear().domain(yDomain).range([bottom, top]);
  const f = d3.format(fmt);
  const lineRaw = d3.line<number[]>().x(d => xs(d[0])).y(d => ys(d[1]));
  const lineSm = d3.line<number[]>().x(d => xs(d[0])).y(d => ys(d[1])).curve(d3.curveCatmullRom);
  return (
    <g>
      <defs>
        <clipPath id={id}>
          <rect x={L - 1} y={top - 10} width={Rclip - L + 1} height={bottom - top + 30} />
        </clipPath>
      </defs>
      <g clipPath={`url(#${id})`}>
        <rect x={L} y={top} width={343.5 - L} height={bottom - top} fill="#fff" />
        {yTicks.map((t: number) => (
          <line key={"g" + t} x1={L} x2={343.5} y1={ys(t)} y2={ys(t)} stroke="#e8e8e8" strokeWidth={0.5} />
        ))}
        <path d={lineRaw(raw) || ""} fill="none" stroke="#4a4a4a" strokeWidth={0.8} />
        <path d={lineSm(smooth) || ""} fill="none" stroke="#e0201b" strokeWidth={1.3} />
        <rect x={L} y={top} width={343.5 - L} height={bottom - top} fill="none" stroke="#b3b3b3" strokeWidth={0.9} />
        <rect x={290.5} y={top + 2} width={56} height={5.5} rx={1} fill="#fff" stroke="#ccc" strokeWidth={0.4} />
        <line x1={292.5} x2={300} y1={top + 4.75} y2={top + 4.75} stroke="#4a4a4a" strokeWidth={0.8} />
        <text x={303} y={top + 6} fontSize={3.5} fill="#333" fontFamily={FONT}>raw</text>
        <line x1={315} x2={324} y1={top + 4.75} y2={top + 4.75} stroke="#e0201b" strokeWidth={1.3} />
        <text x={327} y={top + 6} fontSize={3.5} fill="#333" fontFamily={FONT}>smoothed</text>
        <text x={(L + 343.5) / 2} y={top - 2} fontSize={3.8} textAnchor="middle" fill="#333" fontFamily={FONT}>
          seasonal reconstruction score: {score}
        </text>
      </g>
      {yTicks.map((t: number) => (
        <text key={t} x={L - 2} y={ys(t) + 1.2} fontSize={3.5} textAnchor="end" fill="#444" fontFamily={FONT}>{f(t)}</text>
      ))}
      {[0, 20, 40, 60, 80, 100, 120].map(t => (
        <text key={t} x={xs(t)} y={bottom + 4.3} fontSize={3.5} textAnchor="middle" fill="#444" fontFamily={FONT}>{t}</text>
      ))}
      <text x={(L + 343.5) / 2} y={bottom + 10} fontSize={5.5} textAnchor="middle" fill="#333" fontFamily={FONT}>days</text>
      <text transform={`translate(${L - 11.5},${(top + bottom) / 2}) rotate(-90)`} fontSize={5} textAnchor="middle" fill="#333" fontFamily={FONT}>Shannon diversity Index</text>
    </g>
  );
}

function BLegend({ x, y }: any) {
  return (
    <g fontFamily={FONT}>
      <rect x={x} y={y} width={63} height={7.5} rx={1.2} fill="#fff" fillOpacity={0.85} stroke="#c8c8c8" strokeWidth={0.5} />
      <line x1={x + 2} x2={x + 10} y1={y + 3.75} y2={y + 3.75} stroke="#222" strokeWidth={0.6} strokeDasharray="2,0.8,0.6,0.8" />
      <text x={x + 14} y={y + 5.1} fontSize={3.8} fill="#333">ytrue</text>
      <line x1={x + 35} x2={x + 45} y1={y + 3.75} y2={y + 3.75} stroke={RED} strokeWidth={0.7} />
      <text x={x + 49} y={y + 5.1} fontSize={3.8} fill="#333">ypred</text>
    </g>
  );
}

function BPanel({ top, bottom, xMax, xTicks, yDomain, yTicks, fmt, regions, vline, truth, pred, legend, xlabel }: any) {
  const L = 380, R = 673;
  const xs = d3.scaleLinear().domain([0, xMax]).range([L, R]);
  const ys = d3.scaleLinear().domain(yDomain).range([bottom, top]);
  const f = d3.format(fmt);
  const line = d3.line<number>().x((_, i) => xs(i)).y(d => ys(d));
  return (
    <g>
      {regions.map((r: any, i: number) => (
        <rect key={i} x={xs(r[0])} y={top} width={xs(r[1]) - xs(r[0])} height={bottom - top} fill={REGION_COLORS[r[2]]} />
      ))}
      {yTicks.map((t: number) => (
        <line key={"g" + t} x1={L} x2={R} y1={ys(t)} y2={ys(t)} stroke="#e2e2e2" strokeWidth={0.4} />
      ))}
      <path d={line(truth) || ""} fill="none" stroke="#333" strokeWidth={0.55} strokeDasharray="1.5,0.8" />
      {truth.map((v: number, i: number) => (
        <circle key={"t" + i} cx={xs(i)} cy={ys(v)} r={0.85} fill="#111" />
      ))}
      <path d={line(pred) || ""} fill="none" stroke={RED} strokeWidth={0.65} />
      {pred.map((v: number, i: number) => (
        <circle key={"p" + i} cx={xs(i)} cy={ys(v)} r={0.85} fill={RED} />
      ))}
      <line x1={xs(vline)} x2={xs(vline)} y1={top} y2={bottom} stroke="#111" strokeWidth={0.9} strokeDasharray="3,1,1,1" />
      <Frame x={L} y={top} w={R - L} h={bottom - top} stroke="#b0b0b0" sw={1} />
      {yTicks.map((t: number) => (
        <text key={t} x={L - 2.5} y={ys(t) + 1.4} fontSize={4.2} textAnchor="end" fill="#444" fontFamily={FONT}>{f(t)}</text>
      ))}
      {xTicks.map((t: number) => (
        <text key={t} x={xs(t)} y={bottom + 5} fontSize={4.2} textAnchor="middle" fill="#444" fontFamily={FONT}>{t}</text>
      ))}
      <text transform={`translate(${L - 14},${(top + bottom) / 2}) rotate(-90)`} fontSize={5} textAnchor="middle" fill="#333" fontFamily={FONT}>Shannon diversity Index</text>
      <BLegend x={legend[0]} y={legend[1]} />
      {xlabel && (
        <text x={(L + R) / 2} y={bottom + 12} fontSize={5.6} textAnchor="middle" fill="#333" fontFamily={FONT}>{xlabel}</text>
      )}
    </g>
  );
}

function PanelC() {
  const L = 38, R = 330, T = 322, B = 435;
  const xs = d3.scaleLinear().domain([0.52, 10.43]).range([L, R]);
  const ys = d3.scaleLinear().domain([0.389, 0.924]).range([B, T]);
  const series = [cMale, cFemale, cDonorA, cDonorB];
  const colors = ["#c0582c", "#f1b428", "#3f769e", "#8db862"];
  const legendX = [100, 152, 213, 279];
  const line = d3.line<number>().x((_, i) => xs(modes[i])).y(d => ys(d));
  return (
    <g fontFamily={FONT}>
      <rect x={L} y={T} width={R - L} height={B - T} fill="#fff" />
      {cYTicks.map(t => (
        <line key={t} x1={L} x2={R} y1={ys(t)} y2={ys(t)} stroke="#e3e3e3" strokeWidth={0.8} />
      ))}
      {series.map((s, k) => (
        <path key={k} d={line(s) || ""} fill="none" stroke={colors[k]} strokeWidth={2} />
      ))}
      {series.map((s, k) =>
        s.map((v, i) => (
          <circle key={k + "-" + i} cx={xs(modes[i])} cy={ys(v)} r={4.6} fill={colors[k]} stroke="#3a3a3a" strokeWidth={0.6} />
        ))
      )}
      <rect x={L} y={T} width={R - L} height={B - T} fill="none" stroke="#9a9a9a" strokeWidth={0.8} />
      {cYTicks.map(t => (
        <g key={t}>
          <line x1={L - 3} x2={L} y1={ys(t)} y2={ys(t)} stroke="#555" strokeWidth={0.6} />
          <text x={L - 4.5} y={ys(t) + 2.4} fontSize={6.8} textAnchor="end" fill="#333">{t.toFixed(1)}</text>
        </g>
      ))}
      {cXTicks.map(t => (
        <g key={t}>
          <line x1={xs(t)} x2={xs(t)} y1={B} y2={B + 2.5} stroke="#555" strokeWidth={0.6} />
          <text x={xs(t)} y={B + 8.5} fontSize={6.4} textAnchor="middle" fill="#333">{t}</text>
        </g>
      ))}
      <text x={(L + R) / 2} y={452} fontSize={6.8} textAnchor="middle" fill="#333">number of modes</text>
      <text transform={`translate(${L - 19},${(T + B) / 2}) rotate(-90)`} fontSize={7} textAnchor="middle" fill="#333">seasonal reconstruction score</text>
      {cNames.map((n, k) => (
        <g key={n}>
          <rect x={legendX[k]} y={304.5} width={15} height={5.5} fill={colors[k]} />
          <text x={legendX[k] + 20} y={310} fontSize={6.8} fill="#333">{n}</text>
        </g>
      ))}
    </g>
  );
}

const rows = [
  { top: 24, bottom: 72, acf: acfMale, band: bandMale, acfDom: [-0.27, 1.12], acfTicks: [0, 0.2, 0.4, 0.6, 0.8, 1.0], acfFmt: ".1f",
    psd: psdMale, psdDom: [-0.05, 3.35], psdTicks: [0, 0.5, 1, 1.5, 2, 2.5, 3], psdFmt: ".1f",
    raw: rawMale, smooth: smoothMale, recDom: [-0.77, 1.12], recTicks: [-0.5, 0, 0.5, 1.0], recFmt: ".1f" },
  { top: 94, bottom: 140, acf: acfFemale, band: bandFemale, acfDom: [-0.45, 1.08], acfTicks: [-0.25, 0, 0.25, 0.5, 0.75, 1.0], acfFmt: ".2f",
    psd: psdFemale, psdDom: [-0.01, 0.87], psdTicks: [0, 0.2, 0.4, 0.6, 0.8], psdFmt: ".1f",
    raw: rawFemale, smooth: smoothFemale, recDom: [-0.46, 0.74], recTicks: [-0.4, -0.2, 0, 0.2, 0.4, 0.6], recFmt: ".1f" },
  { top: 161, bottom: 211, acf: acfDonorA, band: bandDonorA, acfDom: [-0.31, 1.1], acfTicks: [-0.2, 0, 0.2, 0.4, 0.6, 0.8, 1.0], acfFmt: ".1f",
    psd: psdDonorA, psdDom: [-0.03, 0.78], psdTicks: [0, 0.2, 0.4, 0.6], psdFmt: ".1f",
    raw: rawDonorA, smooth: smoothDonorA, recDom: [-0.83, 0.42], recTicks: [-0.6, -0.4, -0.2, 0, 0.2], recFmt: ".1f" },
  { top: 229, bottom: 277, acf: acfDonorB, band: bandDonorB, acfDom: [-0.33, 1.11], acfTicks: [-0.2, 0, 0.2, 0.4, 0.6, 0.8, 1.0], acfFmt: ".1f",
    psd: psdDonorB, psdDom: [-0.03, 2.3], psdTicks: [0, 0.5, 1, 1.5, 2], psdFmt: ".1f",
    raw: rawDonorB, smooth: smoothDonorB, recDom: [-1.06, 0.54], recTicks: [-1, -0.75, -0.5, -0.25, 0, 0.25, 0.5], recFmt: ".2f" },
];

export default function App() {
  return (
    <svg width={678} height={453} viewBox="0 0 678 453" style={{ position: "absolute", left: 0, top: 0, background: "#fff" }}>
      <rect x={0} y={0} width={678} height={453} fill="#fff" />
      <text x={17} y={18} fontSize={14} fontWeight="bold" fontFamily={ARIAL}>A</text>
      <text x={368} y={18} fontSize={14} fontWeight="bold" fontFamily={ARIAL}>B</text>
      <text x={16} y={311} fontSize={14} fontWeight="bold" fontFamily={ARIAL}>C</text>

      {rows.map((r, i) => (
        <g key={i}>
          <text transform={`translate(${9.5},${(r.top + r.bottom) / 2}) rotate(-90)`} fontSize={6.5} textAnchor="middle" fill="#333" fontFamily={ARIAL}>{rowNames[i]}</text>
          <AcfPanel top={r.top} bottom={r.bottom} acf={r.acf} band={r.band} yDomain={r.acfDom} yTicks={r.acfTicks} fmt={r.acfFmt} />
          <PsdPanel top={r.top} bottom={r.bottom} amps={r.psd} yDomain={r.psdDom} yTicks={r.psdTicks} fmt={r.psdFmt} />
          <ReconPanel id={"clip" + i} top={r.top + 1} bottom={r.bottom} raw={r.raw} smooth={r.smooth} yDomain={r.recDom} yTicks={r.recTicks} fmt={r.recFmt} score={reconScores[i]} />
        </g>
      ))}

      <BPanel top={23} bottom={108} xMax={200} xTicks={[0, 25, 50, 75, 100, 125, 150, 175, 200]} yDomain={[3.15, 5.88]} yTicks={[3.5, 4.0, 4.5, 5.0, 5.5]} fmt=".1f"
        regions={b1Regions} vline={80} truth={b1True} pred={b1Pred} legend={[382, 26]} />
      <BPanel top={120} bottom={202} xMax={130} xTicks={[0, 20, 40, 60, 80, 100, 120]} yDomain={[2.77, 4.29]} yTicks={[2.8, 3.0, 3.2, 3.4, 3.6, 3.8, 4.0, 4.2]} fmt=".1f"
        regions={b2Regions} vline={80} truth={b2True} pred={b2Pred} legend={[608, 122]} />
      <BPanel top={215} bottom={299} xMax={200} xTicks={[0, 25, 50, 75, 100, 125, 150, 175, 200]} yDomain={[2.705, 4.585]} yTicks={[2.75, 3.0, 3.25, 3.5, 3.75, 4.0, 4.25, 4.5]} fmt=".2f"
        regions={b3Regions} vline={70} truth={b3True} pred={b3Pred} legend={[381, 289]} />
      <BPanel top={310.5} bottom={395} xMax={200} xTicks={[0, 25, 50, 75, 100, 125, 150, 175, 200]} yDomain={[2.32, 4.94]} yTicks={[2.5, 3.0, 3.5, 4.0, 4.5]} fmt=".1f"
        regions={b4Regions} vline={80} truth={b4True} pred={b4Pred} legend={[608, 312.5]} xlabel="time point [days]" />

      <PanelC />
    </svg>
  );
}
